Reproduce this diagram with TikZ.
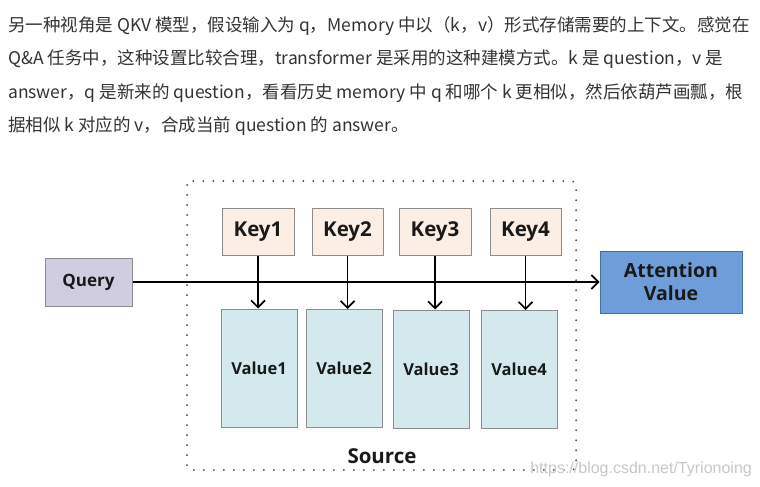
\documentclass[tikz,border=0pt]{standalone}
\usepackage{fontspec}
\setmainfont{Open Sans}
\newfontfamily\cjk{Noto Sans CJK SC}
\newfontfamily\wmfont{Liberation Sans}
\usetikzlibrary{arrows.meta}
\definecolor{txtgray}{HTML}{333333}
\definecolor{boxline}{HTML}{8C8C8C}
\definecolor{queryfill}{HTML}{D1CDE1}
\definecolor{keyfill}{HTML}{FBEEE5}
\definecolor{valfill}{HTML}{D3E9ED}
\definecolor{attfill}{HTML}{6F9DDA}
\definecolor{attline}{HTML}{4A6E9E}

\begin{document}
\begin{tikzpicture}[x=1pt,y=-1pt,
  para/.style={anchor=base west, inner sep=0pt, text=txtgray, font=\cjk\fontsize{17.5}{21}\selectfont},
  box/.style={draw=boxline, line width=1pt, inner sep=0pt, text=black!90, font=\bfseries\fontsize{17}{20}\selectfont},
  keybox/.style={box, fill=keyfill, minimum width=72pt, minimum height=47pt, font=\bfseries\fontsize{20.5}{24}\selectfont},
  valbox/.style={box, fill=valfill, minimum width=76pt, minimum height=118pt, font=\bfseries\fontsize{16.5}{20}\selectfont},
  arr/.style={line width=1.5pt, -{Straight Barb[length=7pt,width=14pt,line width=1.6pt]}}]
  \useasboundingbox (0,0) rectangle (760,487);
  \node[para] (l1) at (8,32) {另一种视角是 QKV 模型，假设输入为 q，Memory 中以（k，v）形式存储需要的上下文。感觉在};
  \node[para] (l2) at (8,65) {Q\&A 任务中，这种设置比较合理，transformer 是采用的这种建模方式。k 是 question，v 是};
  \node[para] (l3) at (8,98) {answer，q 是新来的 question，看看历史 memory 中 q 和哪个 k 更相似，然后依葫芦画瓢，根};
  \node[para] (l4) at (8,131) {据相似 k 对应的 v，合成当前 question 的 answer。};
  \draw[black!75, line width=2pt, line cap=round, dash pattern=on 0pt off 10pt, rounded corners=4pt]
    (187,181) rectangle (576,470);
  \node[box, fill=queryfill, minimum width=87pt, minimum height=48pt] (q) at (88.5,282) {Query};
  \node[keybox] (k1) at (258,232) {Key1};
  \node[keybox, minimum width=71pt] (k2) at (347.5,232) {Key2};
  \node[keybox] (k3) at (435,232) {Key3};
  \node[keybox, minimum width=71pt] (k4) at (525.5,232) {Key4};
  \node[valbox] (v1) at (259,368) {Value1};
  \node[valbox] (v2) at (344,368.5) {Value2};
  \node[valbox] (v3) at (431,369) {Value3};
  \node[valbox] (v4) at (519,369.5) {Value4};
  \node[box, draw=attline, fill=attfill, minimum width=142pt, minimum height=62pt, align=center,
    font=\bfseries\fontsize{19.5}{23}\selectfont] (att) at (671,282) {Attention\\Value};
  \node[font=\bfseries\fontsize{20.5}{24}\selectfont, text=black!90] (src) at (382,456) {Source};
  \draw[arr] (q) -- (att);
  \draw[arr] (k1) -- (k1 |- v1.north);
  \draw[arr] (k2) -- (k2 |- v2.north);
  \draw[arr] (k3) -- (k3 |- v3.north);
  \draw[arr] (k4) -- (k4 |- v4.north);
  \node[anchor=east, inner sep=0pt, text=black!22, font=\wmfont\fontsize{16}{19}\selectfont] (wm) at (752,469) {https://blog.csdn.net/Tyrionoing};
\end{tikzpicture}
\end{document}
